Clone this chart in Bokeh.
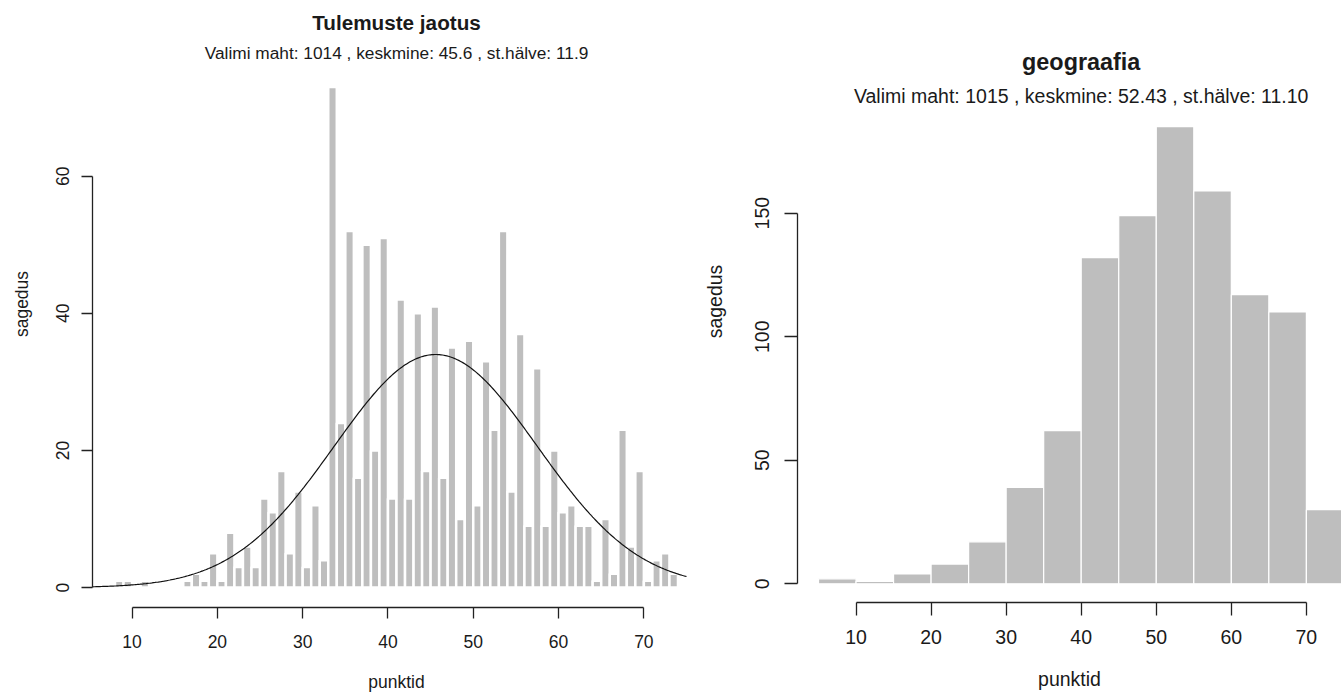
import numpy as np
from bokeh.plotting import figure
from bokeh.models import Range1d, FixedTicker, Label
from bokeh.layouts import row
from bokeh.embed import file_html
from bokeh.resources import INLINE

# ---------------- data ----------------
# left panel: one-point bins (left edge of each bin)
left_bins = list(range(8, 74))
left_counts = [1, 1, 0, 1, 0, 0, 0, 0, 1, 2, 1, 5, 1, 8, 3, 6, 3, 13, 11, 17,
               5, 14, 3, 12, 4, 73, 24, 52, 16, 50, 20, 51, 13, 42, 13, 40, 17,
               41, 16, 35, 10, 36, 12, 33, 23, 52, 14, 37, 9, 32, 9, 20, 11, 12,
               9, 9, 1, 10, 2, 23, 6, 17, 1, 4, 5, 2]
left_n = 1014
left_mean = 45.6
left_sd = 11.9
left_title = "Tulemuste jaotus"
left_subtitle = "Valimi maht: 1014 , keskmine: 45.6 , st.hälve: 11.9"
left_xticks = [10, 20, 30, 40, 50, 60, 70]
left_yticks = [0, 20, 40, 60]

# right panel: five-point bins
right_edges = [5, 10, 15, 20, 25, 30, 35, 40, 45, 50, 55, 60, 65, 70, 75]
right_counts = [2, 1, 4, 8, 17, 39, 62, 132, 149, 185, 159, 117, 110, 30]
right_title = "geograafia"
right_subtitle = "Valimi maht: 1015 , keskmine: 52.43 , st.hälve: 11.10"
right_xticks = [10, 20, 30, 40, 50, 60, 70]
right_yticks = [0, 50, 100, 150]

x_label = "punktid"
y_label = "sagedus"

FONT = "Liberation Sans"
TXT = "#1a1a1a"
BAR = "#bebebe"


def style_axis(ax, ticks, bounds, fs, tick_len, label_standoff):
    ax.ticker = FixedTicker(ticks=ticks)
    ax.bounds = bounds
    ax.major_tick_out = tick_len
    ax.major_tick_in = 0
    ax.minor_tick_line_color = None
    ax.axis_line_color = "#222222"
    ax.major_tick_line_color = "#222222"
    ax.axis_line_width = 1.3
    ax.major_tick_line_width = 1.3
    ax.major_label_text_font = FONT
    ax.major_label_text_font_size = fs
    ax.major_label_text_color = TXT
    ax.major_label_standoff = label_standoff
    ax.axis_label_text_font = FONT
    ax.axis_label_text_font_size = fs
    ax.axis_label_text_font_style = "normal"
    ax.axis_label_text_color = TXT


def text_label(p, x, y, text, size, style="normal"):
    p.add_layout(Label(x=x, y=y, text=text, text_align="center",
                       text_baseline="middle", text_font=FONT,
                       text_font_size=size, text_font_style=style,
                       text_color=TXT))


# ---------------- left figure ----------------
p1 = figure(width=700, height=694, output_backend="svg", toolbar_location=None,
            title=None, frame_align=False,
            x_range=Range1d(5.36, 76.64), y_range=Range1d(-2.91, 85.63),
            min_border_left=92, min_border_right=0, min_border_top=0,
            min_border_bottom=86)
p1.grid.visible = False
p1.outline_line_color = None
p1.background_fill_color = "white"

lb = np.array(left_bins, dtype=float)
p1.quad(left=lb, right=lb + 1, bottom=0, top=left_counts,
        fill_color=BAR, line_color="white", line_width=2.5)

xs = np.linspace(p1.x_range.start, 75, 400)
ys = left_n * np.exp(-0.5 * ((xs - left_mean) / left_sd) ** 2) / (left_sd * np.sqrt(2 * np.pi))
p1.line(xs, ys, line_color="#111111", line_width=1.2)

style_axis(p1.xaxis[0], left_xticks, (10, 70), "17.5px", 11, 16)
p1.xaxis[0].axis_label = x_label
p1.xaxis[0].axis_label_standoff = 21
style_axis(p1.yaxis[0], left_yticks, (0, 60), "17.5px", 11, 12)
p1.yaxis[0].major_label_orientation = "vertical"
p1.yaxis[0].axis_label = y_label
p1.yaxis[0].axis_label_standoff = 22

text_label(p1, 41, 82.4, left_title, "20.7px", "bold")
text_label(p1, 41, 77.9, left_subtitle, "17.3px")

# ---------------- right figure ----------------
p2 = figure(width=641, height=694, output_backend="svg", toolbar_location=None,
            title=None, frame_align=False,
            x_range=Range1d(2.2, 74.68), y_range=Range1d(-7.57, 236.06),
            min_border_left=97, min_border_right=0, min_border_top=0,
            min_border_bottom=92)
p2.grid.visible = False
p2.outline_line_color = None
p2.background_fill_color = "white"

re = np.array(right_edges, dtype=float)
p2.quad(left=re[:-1], right=re[1:], bottom=0, top=right_counts,
        fill_color=BAR, line_color="white", line_width=1.2)

style_axis(p2.xaxis[0], right_xticks, (10, 70), "19.5px", 13, 14)
p2.xaxis[0].axis_label = x_label
p2.xaxis[0].axis_label_standoff = 21
style_axis(p2.yaxis[0], right_yticks, (0, 150), "19.5px", 13, 15)
p2.yaxis[0].major_label_orientation = "vertical"
p2.yaxis[0].axis_label = y_label
p2.yaxis[0].axis_label_standoff = 27

text_label(p2, 40, 211.1, right_title, "23.4px", "bold")
text_label(p2, 40, 197.6, right_subtitle, "19.5px")

layout = row(p1, p2)
open("out.html", "w").write(file_html(layout, INLINE))
